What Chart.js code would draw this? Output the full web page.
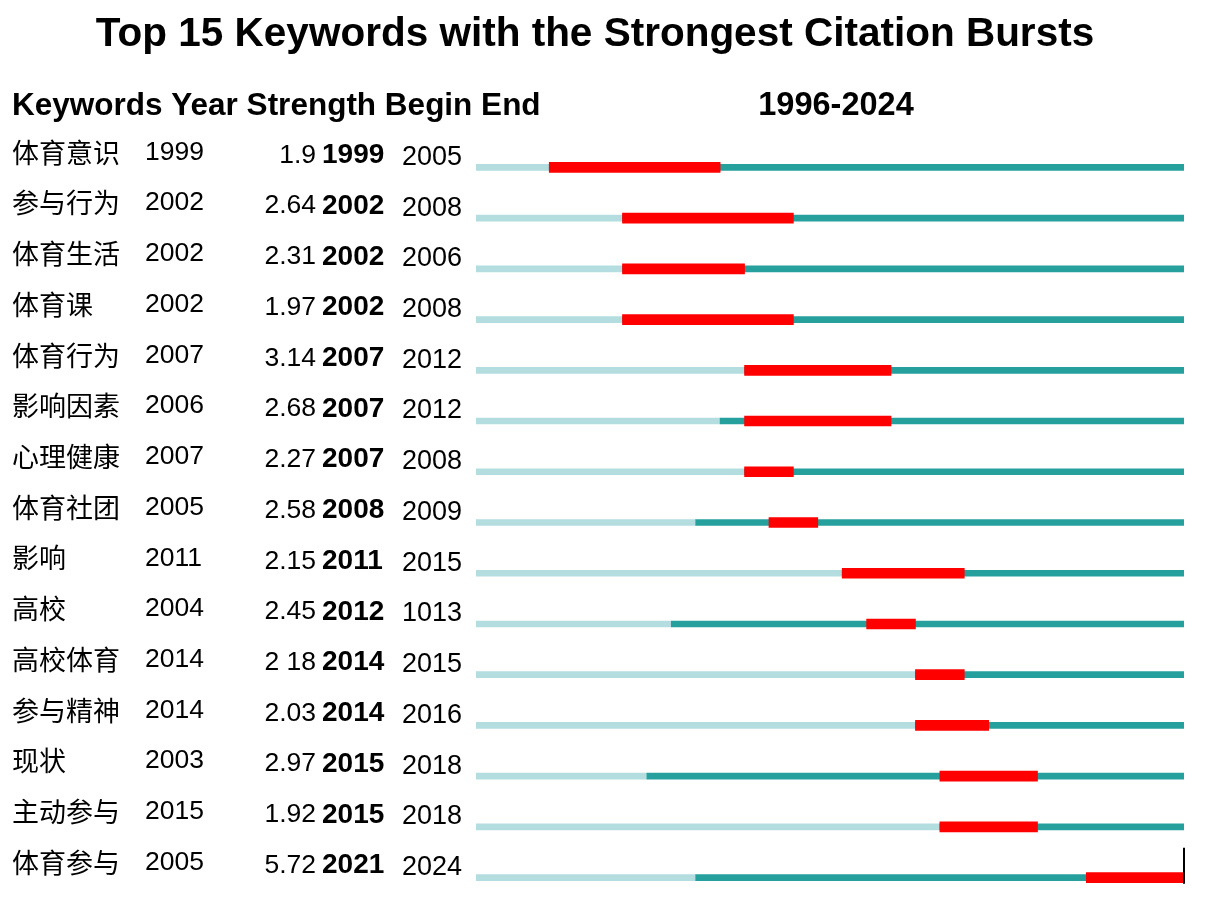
<!DOCTYPE html>
<html lang="zh">
<head>
  <meta charset="UTF-8" />
  <title>Top 15 Keywords with the Strongest Citation Bursts</title>
  <script src="https://cdn.jsdelivr.net/npm/chart.js"></script>
  <style>
    body { margin: 0; background: #fff; }
    .wrap { width: 1205px; height: 905px; position: relative; }
  </style>
</head>
<body>
  <div class="wrap"><canvas id="grafica"></canvas></div>
  <script>
    // datos
    const keywords = ['体育意识', '参与行为', '体育生活', '体育课', '体育行为', '影响因素', '心理健康', '体育社团', '影响', '高校', '高校体育', '参与精神', '现状', '主动参与', '体育参与'];
    const years = [1999, 2002, 2002, 2002, 2007, 2006, 2007, 2005, 2011, 2004, 2014, 2014, 2003, 2015, 2005];
    const strengthLabels = ['1.9', '2.64', '2.31', '1.97', '3.14', '2.68', '2.27', '2.58', '2.15', '2.45', '2 18', '2.03', '2.97', '1.92', '5.72'];
    const begins = [1999, 2002, 2002, 2002, 2007, 2007, 2007, 2008, 2011, 2012, 2014, 2014, 2015, 2015, 2021];
    const ends = [2005, 2008, 2006, 2008, 2012, 2012, 2008, 2009, 2015, 2013, 2015, 2016, 2018, 2018, 2024];
    const endLabels = ['2005', '2008', '2006', '2008', '2012', '2012', '2008', '2009', '2015', '1013', '2015', '2016', '2018', '2018', '2024'];
    const firstYear = 1996;
    const lastYear = 2024;
    const titulo = 'Top 15 Keywords with the Strongest Citation Bursts';

    const lightData = years.map(y => [firstYear, y]);
    const darkData = years.map(y => [y, lastYear + 1]);
    const redData = begins.map((b, i) => [b, ends[i] + 1]);

    const latin = '"Liberation Sans", Arial, "Noto Sans CJK SC", sans-serif';

    const tablaTexto = {
      id: 'tablaTexto',
      afterDraw(chart) {
        const ctx = chart.ctx;
        const ys = chart.scales.y;
        const xs = chart.scales.x;
        ctx.save();
        ctx.fillStyle = '#000';
        ctx.textBaseline = 'middle';
        // titulo
        ctx.textAlign = 'center';
        ctx.font = 'bold 40.5px ' + latin;
        ctx.fillText(titulo, 595, 35);
        // cabecera
        ctx.font = 'bold 31.5px ' + latin;
        ctx.textAlign = 'left';
        ctx.fillText('Keywords Year Strength Begin End', 12, 106);
        ctx.textAlign = 'center';
        ctx.font = 'bold 32.5px ' + latin;
        ctx.fillText(firstYear + '-' + lastYear, 836, 106);

        keywords.forEach((k, i) => {
          const yc = ys.getPixelForValue(i);
          ctx.textAlign = 'left';
          ctx.font = '27px "Noto Sans CJK SC", sans-serif';
          ctx.fillText(k, 12, yc - 15);
          ctx.font = '26.5px ' + latin;
          ctx.fillText(String(years[i]), 145, yc - 15);
          ctx.textAlign = 'right';
          ctx.fillText(strengthLabels[i], 316, yc - 12);
          ctx.textAlign = 'left';
          ctx.font = 'bold 28px ' + latin;
          ctx.fillText(String(begins[i]), 322, yc - 12);
          ctx.font = '27px ' + latin;
          ctx.fillText(endLabels[i], 402, yc - 10);
        });

        // marca final en la ultima fila
        const n = keywords.length - 1;
        const yl = ys.getPixelForValue(n);
        const xl = xs.getPixelForValue(lastYear + 1);
        ctx.strokeStyle = '#000';
        ctx.lineWidth = 2;
        ctx.beginPath();
        ctx.moveTo(xl, yl - 30);
        ctx.lineTo(xl, yl + 6);
        ctx.stroke();
        ctx.restore();
      }
    };

    new Chart(document.getElementById('grafica'), {
      type: 'bar',
      data: {
        labels: keywords,
        datasets: [
          { label: 'light', data: lightData, backgroundColor: '#b3dddf', barThickness: 6, grouped: false, order: 2 },
          { label: 'dark', data: darkData, backgroundColor: '#26a09d', barThickness: 6, grouped: false, order: 1 },
          { label: 'burst', data: redData, backgroundColor: '#ff0000', barThickness: 10, grouped: false, order: 0 }
        ]
      },
      options: {
        indexAxis: 'y',
        responsive: true,
        maintainAspectRatio: false,
        animation: false,
        layout: { padding: { left: 476, right: 21, top: 142, bottom: 2 } },
        scales: {
          x: { type: 'linear', min: firstYear, max: lastYear + 1, display: false },
          y: { display: false }
        },
        plugins: {
          legend: { display: false },
          tooltip: { enabled: false },
          title: { display: false }
        }
      },
      plugins: [tablaTexto]
    });
  </script>
</body>
</html>
